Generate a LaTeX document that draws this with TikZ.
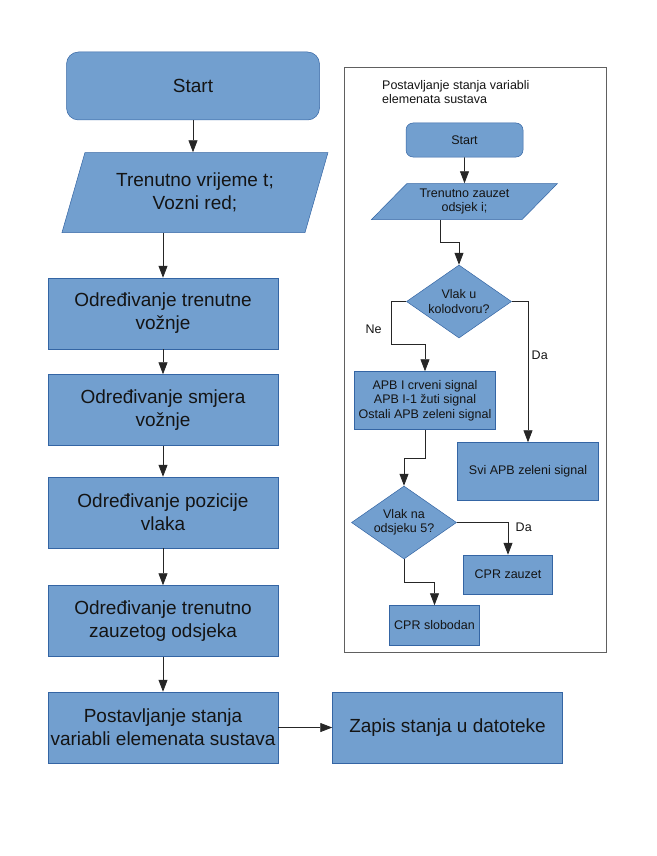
\documentclass[tikz,border=0pt]{standalone}
\usepackage{fontspec}
\setmainfont{Liberation Sans}
\usetikzlibrary{arrows.meta,positioning,shapes.geometric}

\definecolor{boxblue}{HTML}{729FCF}
\definecolor{boxedge}{HTML}{3465A4}
\definecolor{txt}{HTML}{141414}
\definecolor{framegray}{HTML}{606060}

\tikzset{
  big/.style={font=\fontsize{19}{23}\selectfont},
  small/.style={font=\fontsize{12.5}{14.5}\selectfont},
  block/.style={rectangle,draw=boxedge,fill=boxblue,line width=0.5pt,text=txt,align=center,inner sep=2pt},
  startbox/.style={block,rounded corners=12pt},
  inbox/.style={block,trapezium,trapezium left angle=62,trapezium right angle=118,trapezium stretches body=true},
  mainbox/.style={block,big,minimum width=230pt,minimum height=71pt},
  decision/.style={block,diamond,aspect=1.44,inner sep=0pt,minimum width=105pt,minimum height=73pt},
  lbl/.style={small,text=txt},
  arr/.style={-{Triangle[length=12pt,width=9pt]},line width=0.8pt,draw=black!85},
}

\begin{document}
\begin{tikzpicture}[x=1pt,y=-1pt]
  \useasboundingbox (0,0) rectangle (656,856);

  % glavni tok
  \node[startbox,big,minimum width=253pt,minimum height=68pt] (start) at (193,86) {Start};
  \node[inbox,big,minimum width=266pt,minimum height=80pt] (vrijeme) [below=32pt of start,xshift=2pt] {Trenutno vrijeme t;\\Vozni red;};
  \node[mainbox] (voznja) [below=45pt of vrijeme,xshift=-32pt] {Određivanje trenutne\\vožnje};
  \node[mainbox] (smjer) [below=25pt of voznja] {Određivanje smjera\\vožnje};
  \node[mainbox] (pozicija) [below=31pt of smjer] {Određivanje pozicije\\vlaka};
  \node[mainbox] (odsjekbox) [below=37pt of pozicija] {Određivanje trenutno\\zauzetog odsjeka};
  \node[mainbox] (sustav) [below=35pt of odsjekbox] {Postavljanje stanja\\variabli elemenata sustava};
  \node[mainbox] (zapis) [right=54pt of sustav] {Zapis stanja u datoteke};

  \draw[arr] (start.south) -- (start.south |- vrijeme.north);
  \draw[arr] (vrijeme.south -| voznja.north) -- (voznja.north);
  \draw[arr] (voznja) -- (smjer);
  \draw[arr] (smjer) -- (pozicija);
  \draw[arr] (pozicija) -- (odsjekbox);
  \draw[arr] (odsjekbox) -- (sustav);
  \draw[arr] (sustav) -- (zapis);

  % potprogram
  \node[draw=framegray,line width=0.8pt,minimum width=262pt,minimum height=585pt] (okvir) at (475,359.5) {};
  \node[lbl,align=left,anchor=north west,inner sep=0pt] (naslov) at (382,80) {Postavljanje stanja variabli\\elemenata sustava};
  \node[startbox,small,rounded corners=7pt,minimum width=117pt,minimum height=34pt] (start2) at (464.5,140) {Start};
  \node[inbox,small,trapezium left angle=40,trapezium right angle=140,minimum width=186pt,minimum height=36pt] (odsjek) [below=26pt of start2] {Trenutno zauzet\\odsjek i;};
  \node[decision,small] (kolodvor) [below=45pt of odsjek,xshift=-5.5pt] {Vlak u\\kolodvoru?};
  \node[block,small,minimum width=141pt,minimum height=58pt] (signali) [below=33pt of kolodvor,xshift=-34pt] {APB I crveni signal\\APB I-1 žuti signal\\Ostali APB zeleni signal};
  \node[block,small,minimum width=141pt,minimum height=58pt] (zeleni) [below=104pt of kolodvor,xshift=69pt] {Svi APB zeleni signal};
  \node[decision,small] (odsjek5) [below=56pt of signali,xshift=-21pt] {Vlak na\\odsjeku 5?};
  \node[block,small,minimum width=89pt,minimum height=39pt] (zauzet) at ([xshift=104pt,yshift=-52pt]odsjek5) {CPR zauzet};
  \node[block,small,minimum width=90pt,minimum height=40pt] (slobodan) [below=46pt of odsjek5,xshift=30.5pt] {CPR slobodan};

  \draw[arr] (start2) -- (odsjek);
  \draw[arr] ([xshift=-24pt]odsjek.south) |- ([yshift=22pt]kolodvor.north) -- (kolodvor.north);
  \draw[arr] (kolodvor.west) -- ++(-15pt,0) -- ++(0,-43pt) node[lbl,pos=0.65,left=6pt] {Ne} -| (signali.north);
  \draw[arr] (kolodvor.east) -| node[lbl,pos=0.69,right] {Da} (zeleni.north);
  \draw[arr] (signali.south) |- ([yshift=27pt]odsjek5.north) -- (odsjek5.north);
  \draw[arr] (odsjek5.east) -| node[lbl,pos=0.58,right=4pt] {Da} (zauzet.north);
  \draw[arr] (odsjek5.south) |- ([yshift=23pt]slobodan.north) -- (slobodan.north);
\end{tikzpicture}
\end{document}
